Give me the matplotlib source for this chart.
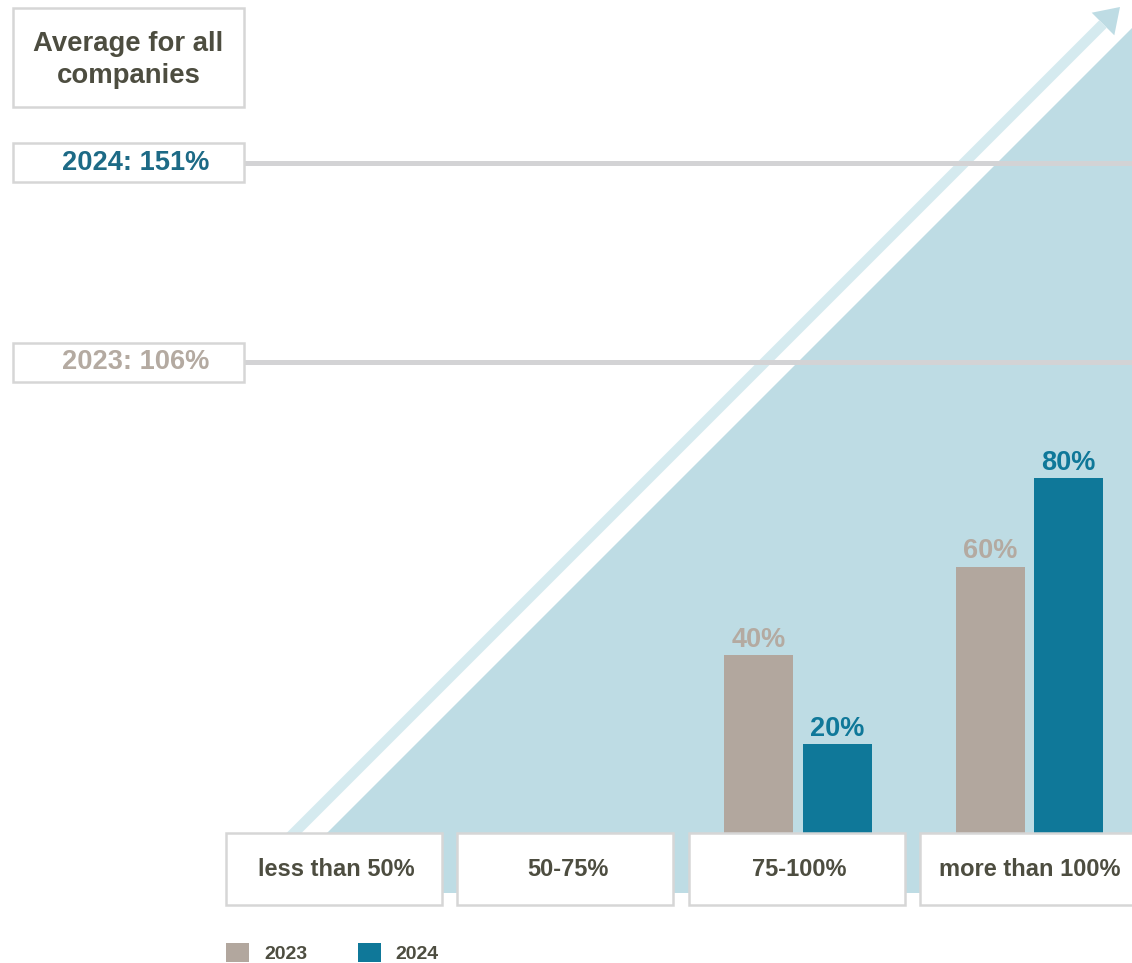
import matplotlib
matplotlib.use("Agg")
import matplotlib.pyplot as plt
from matplotlib.patches import Rectangle, Polygon

plt.rcParams["font.family"] = ["Liberation Sans", "DejaVu Sans"]
plt.rcParams["font.weight"] = "bold"

categories = ["less than 50%", "50-75%", "75-100%", "more than 100%"]
share_2023 = [0, 0, 40, 60]
share_2024 = [0, 0, 20, 80]
avg_2023 = 106
avg_2024 = 151
years = ["2023", "2024"]

c_2023 = "#b2a79e"
c_2024 = "#0f7899"
c_2023_txt = "#b4aaa1"
c_2024_txt = "#1d6a86"
c_dark = "#4d4d40"
c_tri = "#bedce4"
c_edge = "#d6d6d6"

W, H = 1132, 963
fig = plt.figure(figsize=(W / 100, H / 100), dpi=100)

# background layer in pixel coordinates (decoration only)
bg = fig.add_axes([0, 0, 1, 1], zorder=0)
bg.set_xlim(0, W)
bg.set_ylim(H, 0)
bg.axis("off")
bg.add_patch(Polygon([(267, 893), (W, 893), (W, 28)], closed=True,
                     facecolor=c_tri, edgecolor="none"))
bg.plot([290, 1103], [837, 24], color="#d5eaef", lw=7.6, solid_capstyle="butt")
bg.add_patch(Polygon([(1120, 7), (1091.7, 12.7), (1114.3, 35.3)], closed=True,
                     facecolor=c_tri, edgecolor="none"))
bg.add_patch(Rectangle((13, 8), 231, 99, facecolor="white", edgecolor=c_edge, lw=1.8))
bg.text(128.5, 60, "Average for all\ncompanies", ha="center", va="center",
        fontsize=19.8, color=c_dark, linespacing=1.3)

# data layer: x = category index, y = percent
ax = fig.add_axes([0, 0, 1, 1], zorder=1)
ax.patch.set_alpha(0)
ax.axis("off")
px_x, px_y = 231.3, 4.44
x0, y0 = 334, 130
ax.set_xlim(-x0 / px_x, (W - x0) / px_x)
ax.set_ylim(-y0 / px_y, (H - y0) / px_y)

xs = list(range(len(categories)))
off, bw = 0.169, 0.298
shift = 0.006
b1 = ax.bar([x - off + shift for x in xs], share_2023, bw, color=c_2023, label=years[0], zorder=3)
b2 = ax.bar([x + off + shift for x in xs], share_2024, bw, color=c_2024, label=years[1], zorder=3)
for bars, vals, col in [(b1, share_2023, c_2023_txt), (b2, share_2024, c_2024)]:
    for rect, v in zip(bars, vals):
        if v > 0:
            ax.text(rect.get_x() + rect.get_width() / 2, v + 0.5, f"{v}%",
                    ha="center", va="bottom", fontsize=19.5, color=col)

# category boxes under the bars
box_h = 72 / px_y
for x, name in zip(xs, categories):
    ax.add_patch(Rectangle((x - 0.467, -box_h), 0.934, box_h, facecolor="white",
                           edgecolor=c_edge, lw=1.8, zorder=4, clip_on=False))
    ax.text(x + 0.01, -box_h / 2, name, ha="center", va="center", fontsize=17,
            color=c_dark, zorder=5)

# average lines with their boxes
lx = (13 - x0) / px_x
lw_box = 231 / px_x
lh = 39 / px_y
for avg, yr, col in [(avg_2024, "2024", c_2024_txt), (avg_2023, "2023", c_2023_txt)]:
    ax.hlines(avg, lx + lw_box, ax.get_xlim()[1], color="#d3d3d5", lw=3.6, zorder=2)
    ax.add_patch(Rectangle((lx, avg - lh / 2), lw_box, lh, facecolor="white",
                           edgecolor=c_edge, lw=1.8, zorder=4))
    ax.text(lx + lw_box / 2 + 0.033, avg, f"{yr}: {avg}%", ha="center", va="center",
            fontsize=19.6, color=col, zorder=5)

leg = ax.legend(handles=[b1, b2], loc="center left",
                bbox_to_anchor=(226 / W, (H - 953) / H), bbox_transform=fig.transFigure,
                ncol=2, frameon=False, fontsize=14, borderpad=0, borderaxespad=0,
                handlelength=1.2, handleheight=1.1, handletextpad=0.75,
                columnspacing=2.6)
for t in leg.get_texts():
    t.set_color(c_dark)

fig.savefig("out.png", dpi=100)
plt.close()
